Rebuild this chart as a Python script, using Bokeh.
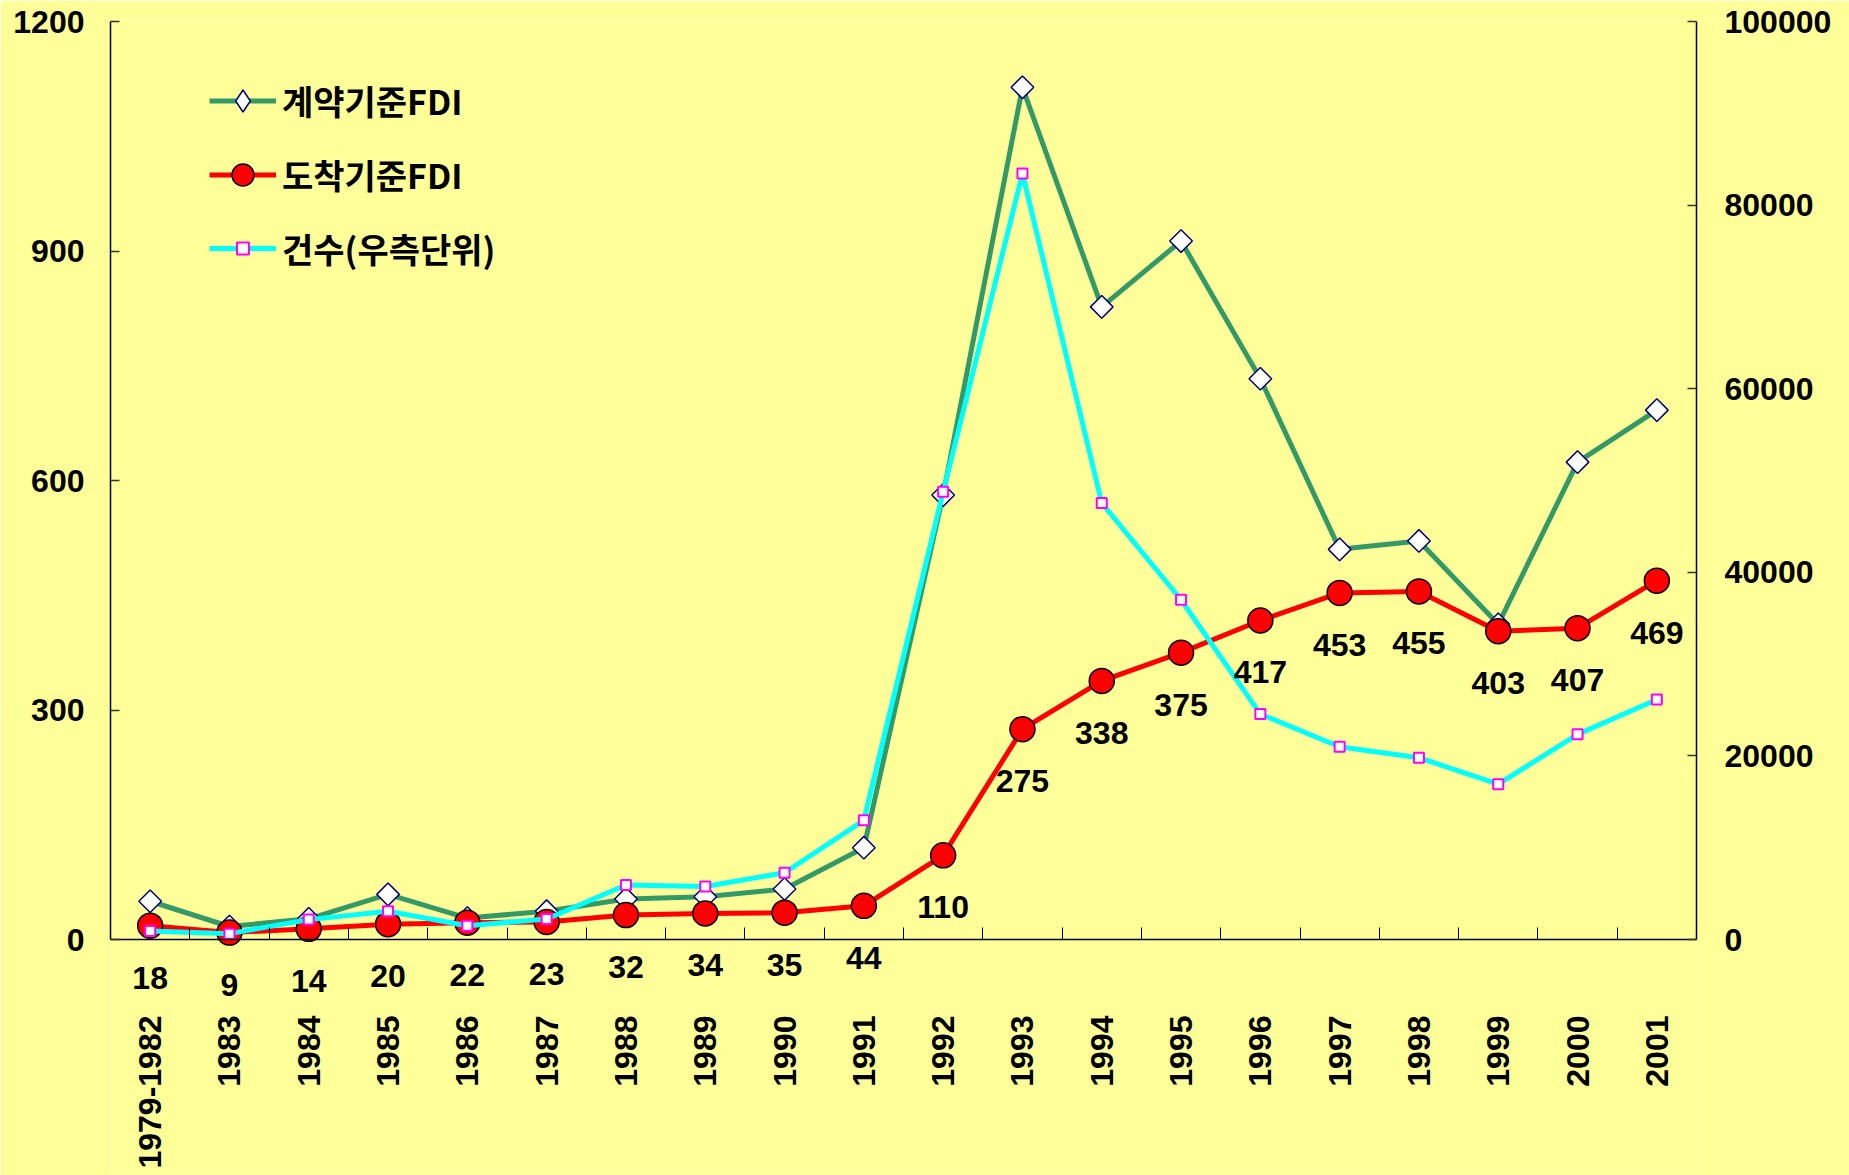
import math
from bokeh.plotting import figure
from bokeh.models import (Range1d, LinearAxis, FixedTicker, ColumnDataSource, LabelSet,
                          Legend, LegendItem, PrintfTickFormatter)
from bokeh.core.properties import value
from bokeh.embed import file_html
from bokeh.resources import INLINE

categories = ["1979-1982", "1983", "1984", "1985", "1986", "1987", "1988", "1989", "1990",
              "1991", "1992", "1993", "1994", "1995", "1996", "1997", "1998", "1999", "2000", "2001"]
contract_fdi = [50, 17, 27, 59, 28, 37, 53, 56, 66, 120, 581, 1114, 827, 913, 733, 510, 521, 412, 624, 692]
actual_fdi = [18, 9, 14, 20, 22, 23, 32, 34, 35, 44, 110, 275, 338, 375, 417, 453, 455, 403, 407, 469]
projects = [922, 638, 2166, 3073, 1498, 2233, 5945, 5779, 7273, 12978, 48764, 83437, 47549,
            37011, 24556, 21001, 19799, 16918, 22347, 26140]
left_ticks = [0, 300, 600, 900, 1200]
right_ticks = [0, 20000, 40000, 60000, 80000, 100000]
legend_labels = ["계약기준FDI", "도착기준FDI", "건수(우측단위)"]

BG = "#FFFF99"
LAT = "Liberation Sans"
KR = "Noto Sans CJK KR"

W, H = 1849, 1175
TOP, LEFT, RIGHT, BOTTOM = 21, 110, 153, 4
ZERO_Y = 939                     # pixel row of the value axis' zero line
LMAX, RMAX = 1200, 100000
# the frame extends below zero so the texts under the axis are not clipped
lmin = -LMAX * (H - BOTTOM - ZERO_Y) / (ZERO_Y - TOP)
rmin = lmin / LMAX * RMAX

n = len(categories)
xs = [i + 0.5 for i in range(n)]
src = ColumnDataSource(dict(x=xs, c=contract_fdi, a=actual_fdi, p=projects,
                            alab=[str(v) for v in actual_fdi], cat=categories))

p = figure(width=W, height=H, output_backend="svg", toolbar_location=None,
           x_range=Range1d(0, n), y_range=Range1d(lmin, LMAX),
           min_border_left=LEFT, min_border_right=RIGHT, min_border_top=TOP,
           min_border_bottom=BOTTOM,
           background_fill_color=BG, border_fill_color=BG, outline_line_color=None)
p.extra_y_ranges = {"right": Range1d(rmin, RMAX)}
p.xgrid.visible = False
p.ygrid.visible = False


def style_axis(ax, standoff):
    ax.major_tick_in = 9
    ax.major_tick_out = 0
    ax.minor_tick_in = 0
    ax.minor_tick_out = 0
    ax.major_label_standoff = standoff
    ax.axis_line_color = "black"
    ax.axis_line_width = 1.5
    ax.major_tick_line_color = "#333333"
    ax.major_tick_line_width = 1.5
    ax.major_label_text_font = LAT
    ax.major_label_text_font_style = "bold"
    ax.major_label_text_font_size = "32px"
    ax.major_label_text_color = "black"


# left axis
ya = p.yaxis[0]
ya.ticker = FixedTicker(ticks=left_ticks, minor_ticks=[])
ya.bounds = (0, LMAX)
style_axis(ya, 26)

# right axis
ra = LinearAxis(y_range_name="right", ticker=FixedTicker(ticks=right_ticks, minor_ticks=[]),
                formatter=PrintfTickFormatter(format="%d"), bounds=(0, RMAX))
style_axis(ra, 28)
p.add_layout(ra, "right")

# bottom axis drawn on the zero line; tick marks between categories
xa = p.xaxis[0]
xa.fixed_location = 0
xa.ticker = FixedTicker(ticks=[], minor_ticks=list(range(n + 1)))
style_axis(xa, 0)
xa.major_tick_in = 0
xa.minor_tick_in = 12
xa.minor_tick_line_color = "black"
xa.minor_tick_line_width = 1
xa.major_label_text_font_size = "0px"

# category labels, vertical, under the zero line
p.add_layout(LabelSet(x="x", y=0, text="cat", source=src, y_offset=-76, angle=math.pi / 2,
                      text_align="right", text_baseline="middle",
                      text_font=value(LAT), text_font_style="bold", text_font_size="32px",
                      text_color="black"))

# series
gl = p.line("x", "c", source=src, line_color="#339966", line_width=5)
gs = p.scatter("x", "c", source=src, marker="square", angle=math.pi / 4, size=16,
               fill_color="white", line_color="#000080", line_width=1.5)
rl = p.line("x", "a", source=src, line_color="#FF0000", line_width=5)
rs = p.scatter("x", "a", source=src, marker="circle", size=25,
               fill_color="#FF0000", line_color="black", line_width=1.5)
cl = p.line("x", "p", source=src, y_range_name="right", line_color="#00FFFF", line_width=5)
cs = p.scatter("x", "p", source=src, y_range_name="right", marker="square", size=10,
               fill_color="white", line_color="#FF00FF", line_width=2)

# legend-only diamond (no visible point: y is NaN)
proxy = p.scatter(x=[xs[0]], y=[float("nan")], marker="diamond", size=22,
                  fill_color="white", line_color="#000080", line_width=1.5)

# data labels of the arrival-based series, below each point
p.add_layout(LabelSet(x="x", y="a", text="alab", source=src, y_offset=-52,
                      text_align="center", text_baseline="middle",
                      text_font=value(LAT), text_font_style="bold", text_font_size="32px",
                      text_color="black"))


def make_legend(label, renderers, top_px, gh, lh):
    # top_px: distance of the legend's top from the frame's top
    frame_h = H - TOP - BOTTOM
    lg = Legend(items=[LegendItem(label=label, renderers=renderers)],
                location=(99, frame_h - top_px - max(gh, lh)), padding=0, margin=0, spacing=0,
                glyph_width=67, glyph_height=gh, label_height=lh, label_standoff=6,
                label_text_font=KR, label_text_font_style="bold", label_text_font_size="34px",
                label_text_color="black", label_text_baseline="middle",
                border_line_color=None, background_fill_alpha=0)
    p.add_layout(lg)


make_legend(legend_labels[0], [gl, proxy], 52, 55, 55)
make_legend(legend_labels[1], [rl, rs], 126, 55, 55)
make_legend(legend_labels[2], [cl, cs], 202, 30, 50)

html = file_html(p, INLINE)
html = html.replace("<body>", '<body style="background-color:#FFFF99;">', 1)
open("out.html", "w").write(html)
